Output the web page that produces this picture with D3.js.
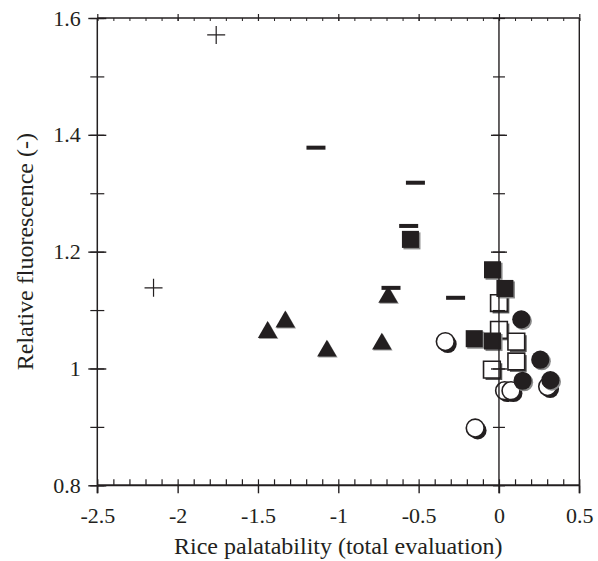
<!DOCTYPE html>
<html>
<head>
<meta charset="utf-8">
<script src="https://cdn.jsdelivr.net/npm/d3@7"></script>
<style>
  body { margin: 0; background: #fff; }
  svg text { font-family: "Liberation Serif", "Times New Roman", serif; fill: #231f20; }
</style>
</head>
<body>
<svg id="chart" width="598" height="561"></svg>
<script>
// values (x = palatability, y = relative fluorescence)
var plusPts = [[-1.76, 1.571], [-2.15, 1.138]];
var dashPts = [[-1.139, 1.378], [-0.52, 1.318], [-0.562, 1.244], [-0.672, 1.138], [-0.27, 1.121]];
var trianglePts = [[-1.44, 1.062], [-1.33, 1.080], [-1.071, 1.030], [-0.729, 1.042], [-0.69, 1.122]];
var openSquarePts = [[0.0, 1.112], [0.0, 1.066], [0.108, 1.046], [0.108, 1.012], [-0.044, 0.998]];
var filledSquarePts = [[-0.551, 1.221], [-0.04, 1.169], [0.037, 1.137], [-0.154, 1.051], [-0.04, 1.047]];
var openCirclePts = [[-0.334, 1.046], [-0.148, 0.898], [0.035, 0.962], [0.075, 0.962], [0.303, 0.969]];
var filledCirclePts = [[0.139, 1.084], [0.257, 1.015], [0.147, 0.979], [0.32, 0.980]];

var xMajor = [-2.5, -2, -1.5, -1, -0.5, 0, 0.5];
var yMajor = [0.8, 1, 1.2, 1.4, 1.6];
var xMinor = d3.range(-25, 6).map(function (i) { return i / 10; });
var yMinor = d3.range(8, 17).map(function (i) { return i / 10; });

var ink = "#231f20";
var svg = d3.select("#chart");
var x = d3.scaleLinear().domain([-2.5, 0.5]).range([97.3, 579.3]);
var y = d3.scaleLinear().domain([0.8, 1.6]).range([485.3, 18]);
var fmt = function (d) { return String(+d.toFixed(1)); };

var marks = svg.append("g");

// shadowed symbol helper
function drawSymbols(pts, type, size, fill, stroke, shadow, off) {
    var sym = d3.symbol().type(type).size(size);
    var g = marks.append("g");
    pts.forEach(function (p) {
        var cx = x(p[0]), cy = y(p[1]);
        g.append("path").attr("d", sym())
            .attr("transform", "translate(" + (cx + off) + "," + (cy + off) + ")")
            .attr("fill", shadow);
        g.append("path").attr("d", sym())
            .attr("transform", "translate(" + cx + "," + cy + ")")
            .attr("fill", fill)
            .attr("stroke", stroke)
            .attr("stroke-width", stroke == "none" ? 0 : 1.6);
    });
}

drawSymbols(openSquarePts, d3.symbolSquare, 280, "#fff", ink, "#555", 2);
drawSymbols(filledSquarePts, d3.symbolSquare, 290, ink, "none", "#888", 1.5);
drawSymbols(openCirclePts, d3.symbolCircle, 250, "#fff", ink, ink, 2.5);
drawSymbols(filledCirclePts, d3.symbolCircle, 260, ink, "none", "#888", 1.5);
drawSymbols(trianglePts, d3.symbolTriangle, 165, ink, "none", "#999", 1);

marks.append("g").selectAll("rect").data(dashPts).enter().append("rect")
    .attr("x", function (d) { return x(d[0]) - 9.5; })
    .attr("y", function (d) { return y(d[1]) - 2; })
    .attr("width", 19).attr("height", 4)
    .attr("fill", ink);

var plus = marks.append("g").attr("stroke", ink).attr("stroke-width", 1.2);
plus.selectAll("path").data(plusPts).enter().append("path")
    .attr("d", function (d) {
        var cx = x(d[0]), cy = y(d[1]);
        return "M" + (cx - 9) + "," + cy + "H" + (cx + 9) + "M" + cx + "," + (cy - 9) + "V" + (cy + 9);
    });

// axes
function styleAxis(g, w) {
    g.select(".domain").remove();
    g.selectAll("line").attr("stroke", ink).attr("stroke-width", w);
    g.selectAll("text").attr("font-size", 22).attr("fill", ink);
}
var yBottom = y(0.8), yTop = y(1.6), xLeft = x(-2.5), xRight = x(0.5), xZero = x(0);

// bottom
svg.append("g").attr("transform", "translate(0," + yBottom + ")")
    .call(d3.axisBottom(x).tickValues(xMinor).tickSize(-6).tickFormat(""))
    .call(styleAxis, 1.2);
svg.append("g").attr("transform", "translate(0," + yBottom + ")")
    .call(d3.axisBottom(x).tickValues(xMajor).tickSize(8).tickPadding(13.6).tickFormat(fmt))
    .call(styleAxis, 1.4);
// top
svg.append("g").attr("transform", "translate(0," + yTop + ")")
    .call(d3.axisTop(x).tickValues(xMinor).tickSize(-3).tickFormat(""))
    .call(styleAxis, 1);
svg.append("g").attr("transform", "translate(0," + yTop + ")")
    .call(d3.axisTop(x).tickValues(xMajor).tickSize(4).tickFormat(""))
    .call(styleAxis, 1.2);
svg.append("g").attr("transform", "translate(0," + yTop + ")")
    .call(d3.axisTop(x).tickValues(xMajor).tickSize(-3).tickFormat(""))
    .call(styleAxis, 1.2);
// left
svg.append("g").attr("transform", "translate(" + xLeft + ",0)")
    .call(d3.axisLeft(y).tickValues(yMinor).tickSize(7).tickFormat(""))
    .call(styleAxis, 1.2);
svg.append("g").attr("transform", "translate(" + xLeft + ",0)")
    .call(d3.axisLeft(y).tickValues(yMinor).tickSize(-7).tickFormat(""))
    .call(styleAxis, 1.2);
svg.append("g").attr("transform", "translate(" + xLeft + ",0)")
    .call(d3.axisLeft(y).tickValues(yMajor).tickSize(9).tickPadding(7.5).tickFormat(fmt))
    .call(styleAxis, 1.4);
svg.append("g").attr("transform", "translate(" + xLeft + ",0)")
    .call(d3.axisLeft(y).tickValues(yMajor).tickSize(-9).tickFormat(""))
    .call(styleAxis, 1.4);
// x = 0 line
svg.append("g").attr("transform", "translate(" + xZero + ",0)")
    .call(d3.axisLeft(y).tickValues(yMinor).tickSize(6).tickFormat(""))
    .call(styleAxis, 1.2);
svg.append("g").attr("transform", "translate(" + xZero + ",0)")
    .call(d3.axisLeft(y).tickValues(yMinor).tickSize(-6).tickFormat(""))
    .call(styleAxis, 1.2);
svg.append("g").attr("transform", "translate(" + xZero + ",0)")
    .call(d3.axisLeft(y).tickValues(yMajor.slice(1, 4)).tickSize(8).tickFormat(""))
    .call(styleAxis, 1.4);
svg.append("g").attr("transform", "translate(" + xZero + ",0)")
    .call(d3.axisLeft(y).tickValues(yMajor.slice(1, 4)).tickSize(-8).tickFormat(""))
    .call(styleAxis, 1.4);

// frame lines
var lines = svg.append("g").attr("stroke", ink);
lines.append("line").attr("x1", xLeft).attr("x2", xRight).attr("y1", yBottom).attr("y2", yBottom).attr("stroke-width", 2);
lines.append("line").attr("x1", xLeft).attr("x2", xRight).attr("y1", yTop).attr("y2", yTop).attr("stroke-width", 1.4);
lines.append("line").attr("x1", xLeft).attr("x2", xLeft).attr("y1", yTop).attr("y2", yBottom + 8).attr("stroke-width", 1.5);
lines.append("line").attr("x1", xRight).attr("x2", xRight).attr("y1", yTop).attr("y2", yBottom + 8).attr("stroke-width", 1.4);
lines.append("line").attr("x1", xZero).attr("x2", xZero).attr("y1", yTop).attr("y2", yBottom + 8).attr("stroke-width", 1.4);

// titles
svg.append("text")
    .attr("x", (xLeft + xRight) / 2).attr("y", 554)
    .attr("text-anchor", "middle").attr("font-size", 24)
    .text("Rice palatability (total evaluation)");
svg.append("text")
    .attr("transform", "translate(33," + ((yTop + yBottom) / 2) + ") rotate(-90)")
    .attr("text-anchor", "middle").attr("font-size", 24)
    .text("Relative fluorescence (-)");
</script>
</body>
</html>
